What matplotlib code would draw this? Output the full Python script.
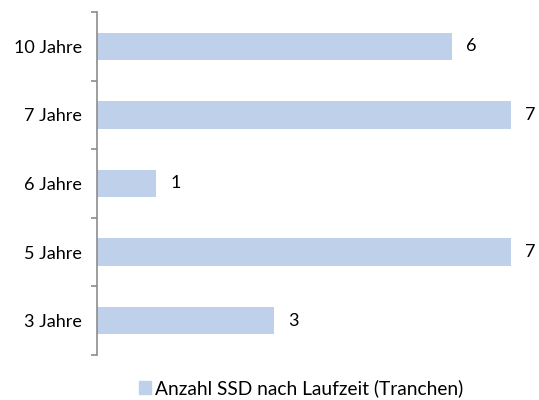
import matplotlib
matplotlib.use("Agg")
import matplotlib.pyplot as plt
from matplotlib.patches import Patch

# data, bottom to top
categories = ['3 Jahre', '5 Jahre', '6 Jahre', '7 Jahre', '10 Jahre']
values = [3, 7, 1, 7, 6]
series_name = 'Anzahl SSD nach Laufzeit (Tranchen)'

bar_color = '#BFD0EA'
plt.rcParams['font.family'] = ['Lato', 'DejaVu Sans']

fig = plt.figure(figsize=(5.39, 4.0), dpi=100)
ax = fig.add_axes([97 / 539, 1 - 355 / 400, (511 - 97) / 539, (355 - 12) / 400])

y = range(len(categories))
ax.barh(y, values, height=0.4, color=bar_color)
for yi, v in zip(y, values):
    ax.annotate(str(v), (v, yi), xytext=(10, 0), textcoords='offset points',
                va='center', ha='left', fontsize=13, color='#000000',
                annotation_clip=False)

ax.set_xlim(0, 7)
ax.set_ylim(-0.5, len(categories) - 0.5)
ax.set_yticks(list(y))
ax.set_yticklabels(categories, fontsize=13)
ax.tick_params(axis='y', length=0, pad=11)
# boundary ticks between categories
ax.set_yticks([i - 0.5 for i in range(len(categories) + 1)], minor=True)
ax.tick_params(axis='y', which='minor', length=4, width=1.2, color='#8c8c8c', direction='out')
ax.set_xticks([])
for s in ['top', 'right', 'bottom']:
    ax.spines[s].set_visible(False)
ax.spines['left'].set_color('#8c8c8c')
ax.spines['left'].set_linewidth(1.2)

fig.legend(handles=[Patch(color=bar_color, label=series_name)],
           loc='center', bbox_to_anchor=(301 / 539, 1 - 388 / 400),
           frameon=False, fontsize=13.8, handlelength=0.65, handleheight=0.65,
           handletextpad=0.2)

fig.savefig('out.png', dpi=100)
